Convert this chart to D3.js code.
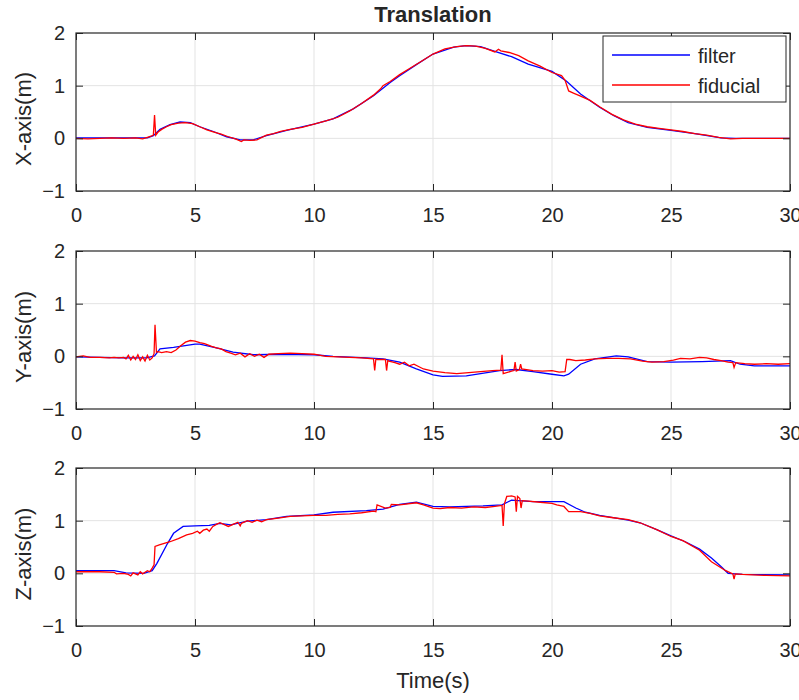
<!DOCTYPE html>
<html>
<head>
<meta charset="utf-8">
<script src="https://cdn.jsdelivr.net/npm/d3@7"></script>
<style>
body { margin: 0; background: #fff; }
svg text { font-family: "Liberation Sans", Arial, Helvetica, sans-serif; fill: #262626; }
</style>
</head>
<body>
<svg id="chart" width="799" height="700"></svg>
<script>
// tick values
xTicks = [0, 5, 10, 15, 20, 25, 30];
yTicks = [-1, 0, 1, 2];
axisNames = ['X-axis(m)', 'Y-axis(m)', 'Z-axis(m)'];
seriesNames = ['filter', 'fiducial'];

// X axis - filter
tXf = [0, 1, 2, 3.0, 3.25, 3.53, 3.95, 4.37, 4.8, 5.2, 5.77, 6.33, 6.9, 7.45, 8.0, 8.85, 10, 10.8, 11.65, 12.5, 13.2, 13.6, 14.3, 15, 15.87, 16.4, 17, 17.6, 18.3, 19.0, 20, 20.6, 21.2, 22.0, 22.6, 23.2, 24, 25, 26, 27.1, 27.7, 30];
vXf = [0.01, 0.01, 0.01, 0.01, 0.05, 0.17, 0.26, 0.31, 0.30, 0.22, 0.13, 0.03, -0.03, -0.03, 0.05, 0.15, 0.27, 0.37, 0.56, 0.81, 1.06, 1.19, 1.40, 1.60, 1.73, 1.76, 1.74, 1.65, 1.55, 1.41, 1.27, 1.09, 0.84, 0.59, 0.43, 0.30, 0.21, 0.15, 0.09, 0.01, 0.0, 0.0];
// X axis - fiducial
tXr = [0, 0.5, 1, 1.5, 2, 2.5, 2.8, 3.0, 3.15, 3.25, 3.3, 3.35, 3.45, 3.6, 3.8, 4.0, 4.3, 4.6, 4.9, 5.2, 5.5, 5.8, 6.1, 6.4, 6.7, 6.95, 7.05, 7.3, 7.6, 8.0, 8.3, 8.6, 9.0, 9.5, 10, 10.5, 11, 11.5, 12, 12.5, 12.8, 12.9, 13.2, 13.6, 14, 14.5, 15, 15.5, 16, 16.4, 16.8, 17.2, 17.6, 17.75, 17.85, 18.2, 18.6, 19, 19.5, 20, 20.4, 20.55, 20.7, 20.9, 21.2, 21.6, 22, 22.5, 23, 23.5, 24, 24.5, 25, 25.5, 26, 26.5, 27, 27.5, 28, 28.5, 29, 29.5, 30];
vXr = [0.0, -0.01, 0.0, 0.01, 0.0, 0.01, -0.01, 0.02, 0.04, 0.06, 0.44, 0.06, 0.12, 0.17, 0.22, 0.26, 0.29, 0.30, 0.28, 0.22, 0.16, 0.12, 0.08, 0.03, -0.01, -0.06, -0.03, -0.04, -0.03, 0.06, 0.09, 0.13, 0.17, 0.21, 0.27, 0.33, 0.40, 0.52, 0.66, 0.82, 0.94, 1.0, 1.08, 1.21, 1.32, 1.46, 1.60, 1.70, 1.74, 1.76, 1.75, 1.71, 1.64, 1.69, 1.66, 1.63, 1.57, 1.47, 1.37, 1.25, 1.19, 1.10, 0.90, 0.86, 0.80, 0.72, 0.60, 0.46, 0.35, 0.27, 0.22, 0.19, 0.16, 0.13, 0.09, 0.06, 0.02, -0.01, 0.0, 0.0, 0.0, 0.0, 0.0];

// Y axis - filter
tYf = [0, 1, 2, 2.97, 3.3, 3.53, 4.1, 5.0, 5.2, 5.9, 6.6, 7.45, 8.7, 10, 10.8, 12.2, 12.9, 13.6, 14.3, 15, 15.4, 16.4, 17.8, 18.5, 19.2, 20, 20.5, 20.7, 21.2, 21.8, 22.7, 23.2, 24, 25, 26.3, 27.5, 27.9, 28.5, 30];
vYf = [-0.01, -0.02, -0.03, -0.03, 0.01, 0.14, 0.17, 0.23, 0.23, 0.16, 0.08, 0.03, 0.04, 0.03, 0.0, -0.03, -0.05, -0.11, -0.24, -0.35, -0.38, -0.37, -0.27, -0.25, -0.29, -0.34, -0.37, -0.34, -0.15, -0.05, 0.01, -0.01, -0.10, -0.11, -0.10, -0.08, -0.15, -0.18, -0.18];
// Y axis - fiducial
tYr = [0, 0.3, 0.6, 1, 1.4, 1.6, 1.8, 2.0, 2.1, 2.2, 2.3, 2.4, 2.5, 2.6, 2.7, 2.8, 2.9, 3.0, 3.1, 3.2, 3.28, 3.32, 3.38, 3.45, 3.6, 3.8, 4.0, 4.2, 4.4, 4.6, 4.8, 5.0, 5.2, 5.4, 5.7, 5.9, 6.1, 6.3, 6.5, 6.7, 6.9, 7.1, 7.3, 7.5, 7.7, 7.9, 8.1, 8.5, 9.0, 9.5, 10, 10.5, 11, 11.5, 12, 12.5, 12.55, 12.6, 12.65, 13.0, 13.05, 13.1, 13.15, 13.4, 13.6, 13.8, 14.0, 14.2, 14.6, 15, 15.5, 16, 16.5, 17, 17.5, 17.85, 17.9, 17.95, 18.3, 18.4, 18.45, 18.5, 18.63, 18.68, 18.73, 19.2, 19.6, 20, 20.3, 20.55, 20.62, 20.75, 21.0, 21.4, 21.8, 22.3, 22.8, 23.3, 23.8, 24.2, 24.7, 25.1, 25.4, 25.8, 26.2, 26.5, 26.8, 27.1, 27.4, 27.6, 27.65, 27.72, 28.1, 28.5, 29, 29.5, 30];
vYr = [-0.01, 0.01, -0.02, -0.02, -0.03, -0.02, -0.03, -0.02, -0.05, 0.02, -0.07, 0.0, -0.06, 0.03, -0.08, -0.01, -0.09, 0.02, -0.07, -0.03, 0.05, 0.60, 0.08, 0.09, 0.07, 0.09, 0.07, 0.12, 0.20, 0.27, 0.30, 0.29, 0.26, 0.24, 0.19, 0.16, 0.14, 0.09, 0.06, 0.03, 0.06, -0.01, 0.05, 0.0, 0.04, -0.02, 0.04, 0.05, 0.06, 0.05, 0.04, 0.0, -0.01, -0.02, -0.03, -0.05, -0.27, -0.05, -0.06, -0.06, -0.27, -0.08, -0.09, -0.12, -0.15, -0.11, -0.18, -0.15, -0.24, -0.28, -0.31, -0.33, -0.31, -0.29, -0.27, -0.26, 0.03, -0.33, -0.28, -0.27, -0.11, -0.28, -0.25, -0.15, -0.24, -0.27, -0.28, -0.27, -0.30, -0.29, -0.06, -0.06, -0.08, -0.07, -0.05, -0.04, -0.04, -0.05, -0.09, -0.11, -0.10, -0.07, -0.04, -0.05, -0.02, -0.03, -0.06, -0.08, -0.11, -0.12, -0.21, -0.12, -0.14, -0.15, -0.14, -0.15, -0.14];

// Z axis - filter
tZf = [0, 1.6, 2.1, 2.85, 3.2, 3.4, 3.85, 4.1, 4.5, 5.0, 5.6, 6.05, 6.5, 7.2, 8.0, 8.85, 10, 10.8, 12.2, 12.9, 13.6, 14.3, 15, 15.7, 17.1, 17.9, 18.3, 19.2, 20, 20.5, 21, 21.4, 22, 23.2, 23.7, 24.4, 25, 25.6, 26.2, 26.7, 27.1, 27.4, 28, 30];
vZf = [0.05, 0.05, 0.01, 0.0, 0.05, 0.19, 0.57, 0.76, 0.89, 0.90, 0.91, 0.95, 0.92, 0.99, 1.02, 1.08, 1.11, 1.16, 1.19, 1.22, 1.31, 1.35, 1.27, 1.26, 1.28, 1.30, 1.39, 1.36, 1.36, 1.36, 1.24, 1.16, 1.10, 1.01, 0.96, 0.83, 0.71, 0.60, 0.46, 0.29, 0.13, 0.0, -0.02, -0.03];
// Z axis - fiducial
tZr = [0, 0.5, 1, 1.6, 1.7, 2.0, 2.2, 2.3, 2.4, 2.6, 2.7, 2.8, 2.9, 3.0, 3.1, 3.2, 3.28, 3.32, 3.5, 3.95, 4.3, 4.65, 4.9, 5.1, 5.2, 5.35, 5.5, 5.6, 5.75, 5.9, 6.05, 6.4, 6.6, 6.8, 6.9, 6.95, 7.2, 7.4, 7.6, 7.8, 8.0, 8.5, 9, 9.5, 10, 10.5, 11, 11.5, 12, 12.5, 12.6, 12.65, 13.0, 13.2, 13.25, 13.6, 14.3, 14.6, 15, 15.3, 15.7, 16.2, 16.7, 17.2, 17.6, 17.9, 17.95, 18.0, 18.1, 18.3, 18.45, 18.5, 18.55, 18.65, 18.7, 18.75, 19.0, 19.5, 20.0, 20.2, 20.5, 20.7, 21.2, 21.6, 22.0, 22.5, 23.2, 23.7, 24.4, 25, 25.5, 26.2, 26.7, 27.3, 27.6, 27.65, 27.7, 28, 29, 30];
vZr = [0.03, 0.03, 0.03, 0.02, -0.01, 0.0, -0.02, -0.05, 0.01, -0.03, 0.03, -0.01, 0.02, 0.05, 0.03, 0.10, 0.16, 0.51, 0.54, 0.60, 0.66, 0.73, 0.76, 0.80, 0.76, 0.82, 0.84, 0.80, 0.89, 0.93, 0.96, 0.89, 0.93, 0.97, 0.90, 0.95, 1.0, 0.97, 1.01, 0.98, 1.02, 1.05, 1.08, 1.09, 1.10, 1.10, 1.12, 1.13, 1.15, 1.18, 1.17, 1.30, 1.24, 1.25, 1.31, 1.30, 1.34, 1.30, 1.24, 1.23, 1.25, 1.24, 1.26, 1.25, 1.27, 1.29, 0.90, 1.32, 1.46, 1.47, 1.45, 1.17, 1.46, 1.42, 1.24, 1.38, 1.37, 1.35, 1.33, 1.30, 1.27, 1.17, 1.17, 1.14, 1.09, 1.06, 1.02, 0.96, 0.83, 0.70, 0.62, 0.44, 0.22, 0.05, -0.01, -0.11, -0.01, -0.02, -0.04, -0.05];

filterT = [tXf, tYf, tZf];
filterV = [vXf, vYf, vZf];
fiducialT = [tXr, tYr, tZr];
fiducialV = [vXr, vYr, vZr];

left = 76; right = 790;
panelTops = [33, 251, 468];
panelH = 158;
axisColor = '#262626';
gridColor = '#e3e3e3';

svg = d3.select('#chart');

x = d3.scaleLinear().domain([0, 30]).range([left, right]);

function drawPanel(i){
	let top = panelTops[i];
	let bottom = top + panelH;
	let y = d3.scaleLinear().domain([-1, 2]).range([bottom, top]);
	let g = svg.append('g');

	// grid
	g.selectAll('.vgrid').data(xTicks.slice(1, -1)).enter().append('line')
		.attr('x1', d => x(d)).attr('x2', d => x(d))
		.attr('y1', top).attr('y2', bottom)
		.attr('stroke', gridColor).attr('stroke-width', 1);
	g.selectAll('.hgrid').data(yTicks.slice(1, -1)).enter().append('line')
		.attr('x1', left).attr('x2', right)
		.attr('y1', d => y(d)).attr('y2', d => y(d))
		.attr('stroke', gridColor).attr('stroke-width', 1);

	// lines
	let line = d3.line().x(d => x(d[0])).y(d => y(d[1]));
	let fData = filterT[i].map((t, j) => [t, filterV[i][j]]);
	let rData = fiducialT[i].map((t, j) => [t, fiducialV[i][j]]);
	g.append('path').datum(fData).attr('d', line)
		.attr('fill', 'none').attr('stroke', '#0000ff').attr('stroke-width', 1.3);
	g.append('path').datum(rData).attr('d', line)
		.attr('fill', 'none').attr('stroke', '#ff0000').attr('stroke-width', 1.3);

	// axes, ticks pointing inward on all sides
	let bAxis = d3.axisBottom(x).tickValues(xTicks).tickSize(-7).tickPadding(17).tickFormat(d3.format('d'));
	let tAxis = d3.axisTop(x).tickValues(xTicks).tickSize(-7).tickFormat('');
	let lAxis = d3.axisLeft(y).tickValues(yTicks).tickSize(-7).tickPadding(11).tickFormat(d3.format('d'));
	let rAxis = d3.axisRight(y).tickValues(yTicks).tickSize(-7).tickFormat('');
	[
		[bAxis, 'translate(0,' + bottom + ')'],
		[tAxis, 'translate(0,' + top + ')'],
		[lAxis, 'translate(' + left + ',0)'],
		[rAxis, 'translate(' + right + ',0)']
	].forEach(function(a){
		let ag = g.append('g').attr('transform', a[1]).call(a[0]);
		ag.select('.domain').remove();
		ag.selectAll('line').attr('stroke', axisColor);
		ag.selectAll('text').attr('font-size', 20)
			.attr('font-family', '"Liberation Sans", Arial, sans-serif').attr('fill', axisColor);
	});
	g.append('rect').attr('x', left).attr('y', top)
		.attr('width', right - left).attr('height', panelH)
		.attr('fill', 'none').attr('stroke', axisColor).attr('stroke-width', 1.2);

	// y label
	let cy = (top + bottom) / 2 + 7;
	g.append('text').attr('transform', 'translate(31,' + cy + ') rotate(-90)')
		.attr('text-anchor', 'middle').attr('font-size', 22).text(axisNames[i]);
}

[0, 1, 2].forEach(drawPanel);

svg.append('text').attr('x', (left + right) / 2).attr('y', 22)
	.attr('text-anchor', 'middle').attr('font-size', 22).attr('font-weight', 'bold')
	.attr('fill', '#000').text('Translation');
svg.append('text').attr('x', (left + right) / 2).attr('y', 688)
	.attr('text-anchor', 'middle').attr('font-size', 22).text('Time(s)');

// legend
legend = svg.append('g');
legend.append('rect').attr('x', 603).attr('y', 36).attr('width', 183).attr('height', 66)
	.attr('fill', '#fff').attr('stroke', axisColor).attr('stroke-width', 1);
['#0000ff', '#ff0000'].forEach(function(c, k){
	let ly = 55 + k * 30;
	legend.append('line').attr('x1', 612).attr('x2', 690).attr('y1', ly).attr('y2', ly)
		.attr('stroke', c).attr('stroke-width', 1.3);
	legend.append('text').attr('x', 698).attr('y', ly + 8)
		.attr('font-size', 20).attr('fill', '#000').text(seriesNames[k]);
});
</script>
</body>
</html>
